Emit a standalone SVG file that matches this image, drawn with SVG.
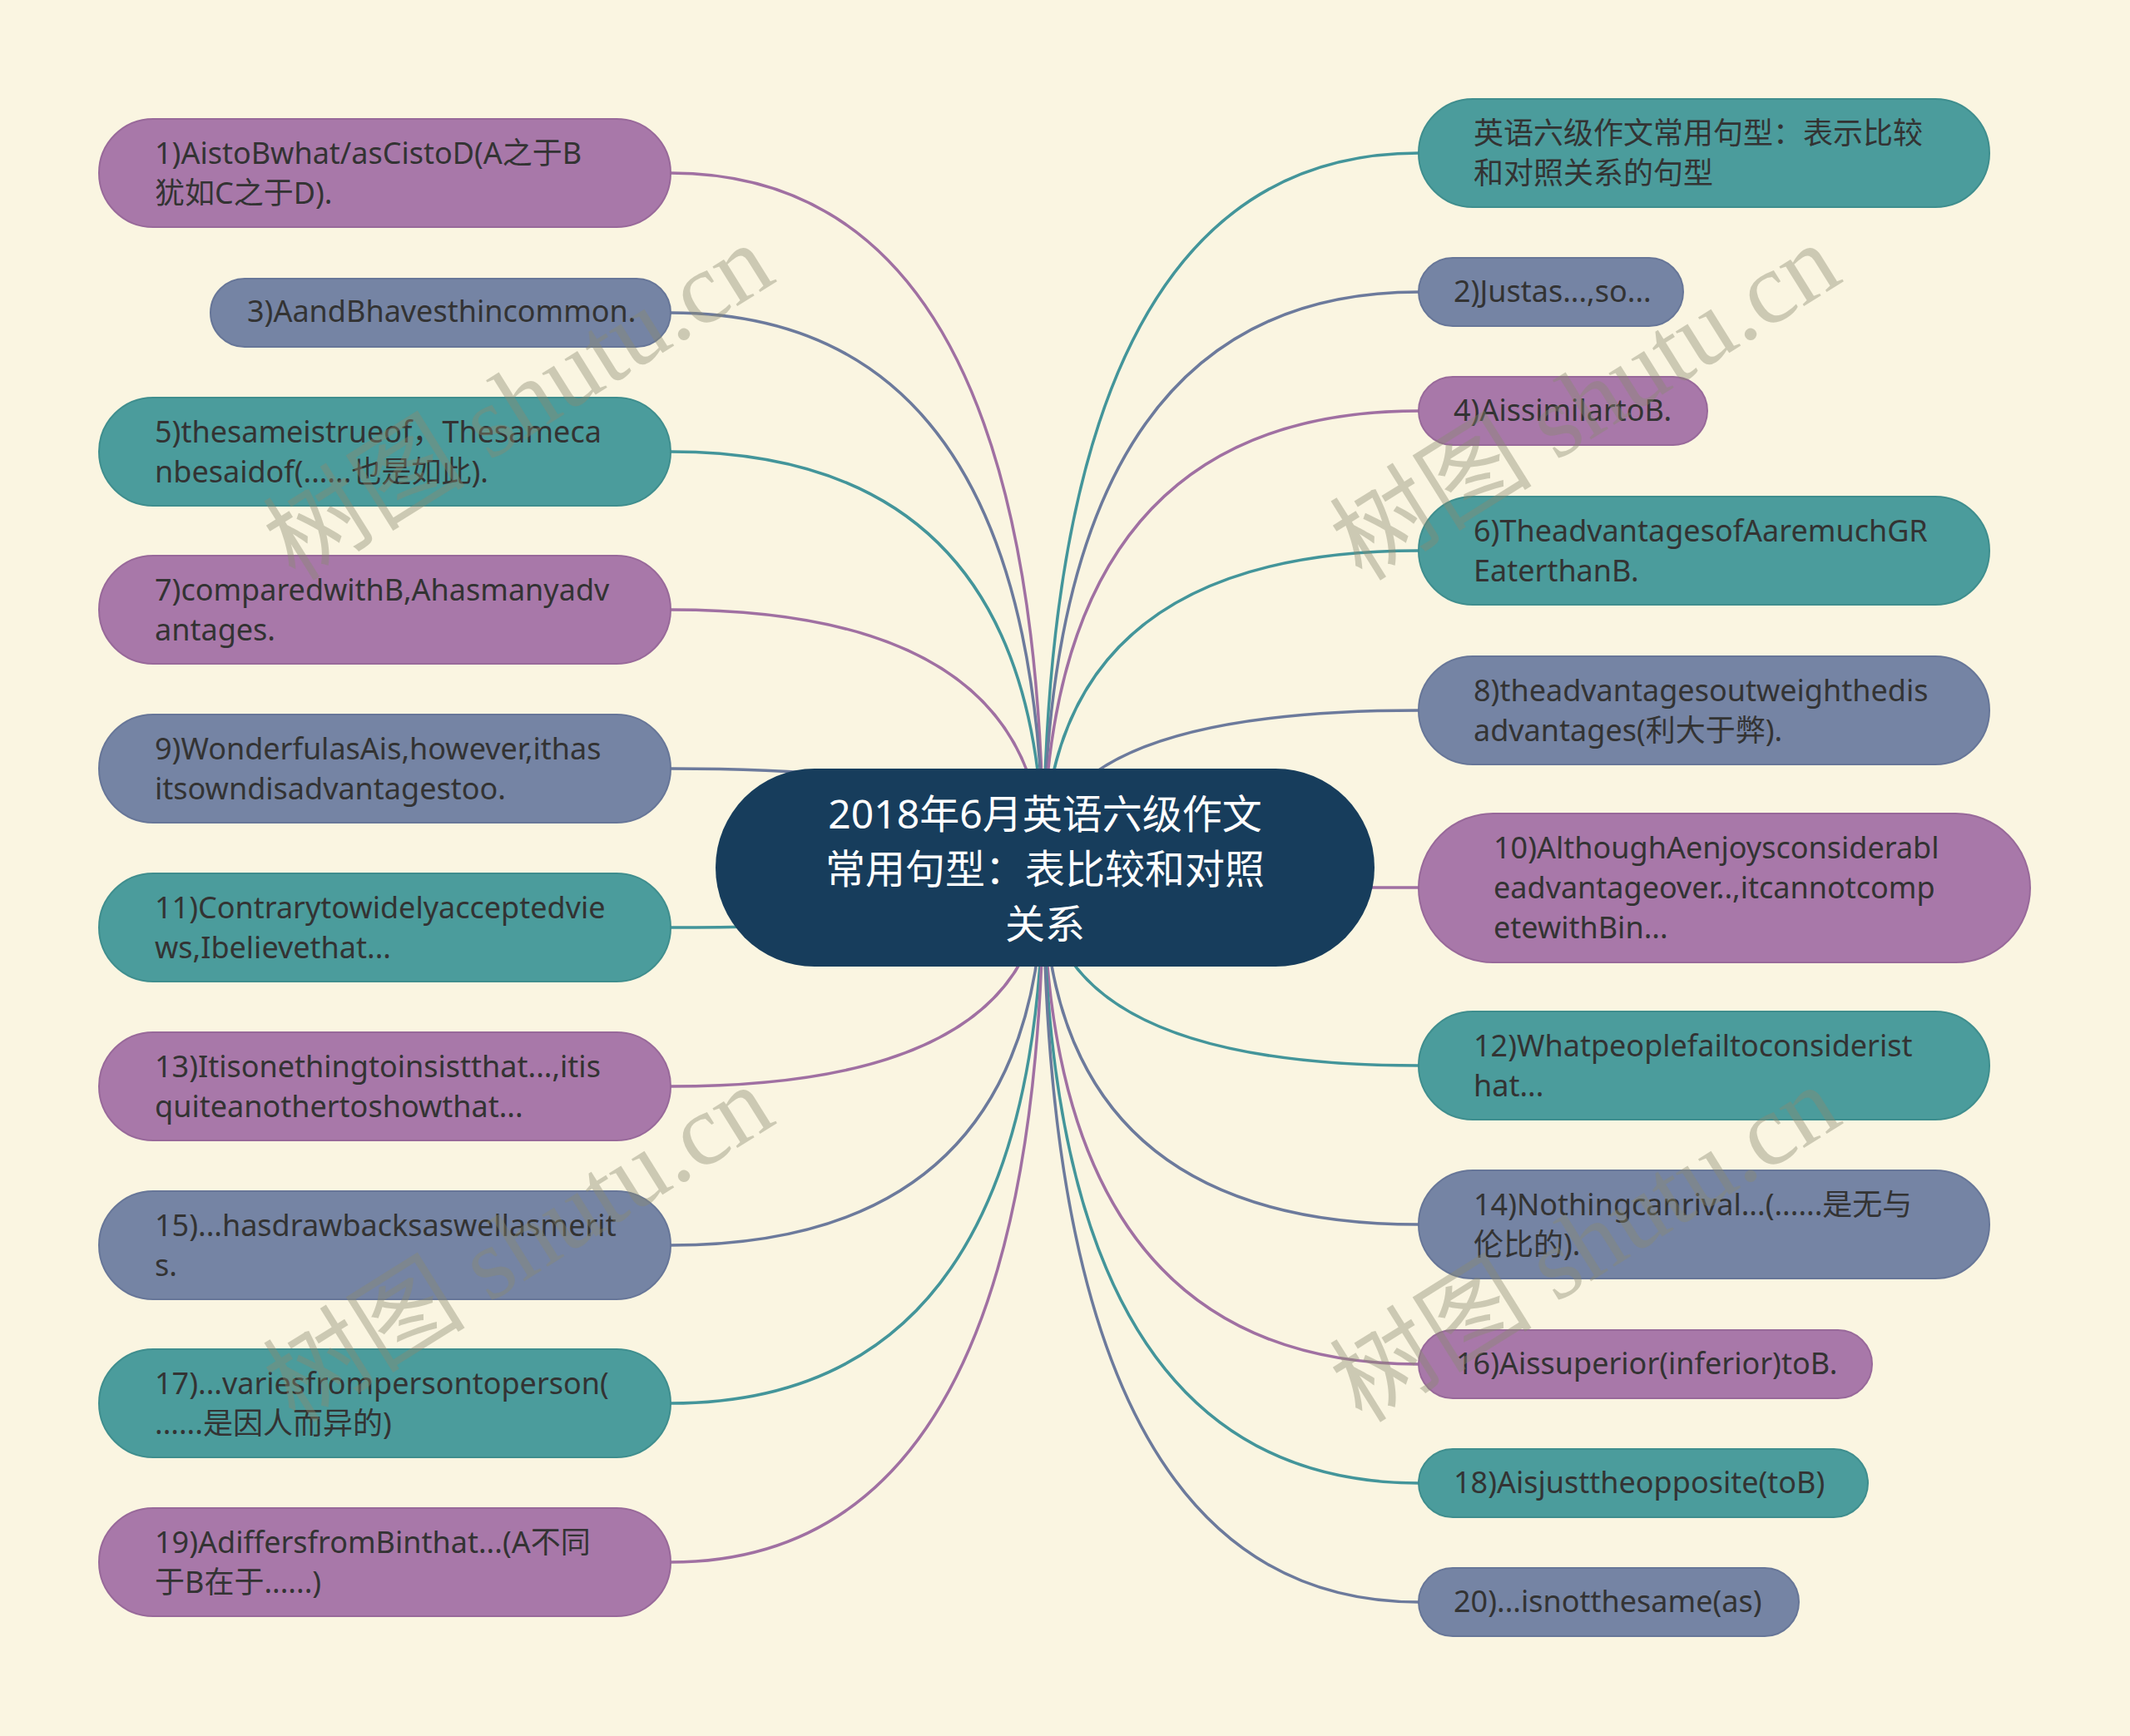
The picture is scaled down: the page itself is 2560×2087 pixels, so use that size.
<svg xmlns="http://www.w3.org/2000/svg" width="2560" height="2087" viewBox="0 0 2560 2087">
<style>
.bg{fill:#faf5e1}
.pu{fill:#a878a9;stroke:#98699a;stroke-width:2}
.te{fill:#4b9c9c;stroke:#3f8e8e;stroke-width:2}
.bl{fill:#7584a4;stroke:#677698;stroke-width:2}
.ct{fill:#173d5c}
.t{font-family:"Noto Sans","Noto Sans CJK SC",sans-serif;font-size:36px;fill:#333333}
.tc{font-family:"Noto Sans","Noto Sans CJK SC",sans-serif;font-size:48px;fill:#ffffff;text-anchor:middle}
.c{fill:none;stroke-width:3.5}
.cp{stroke:#a070a2}
.cte{stroke:#43959a}
.cbl{stroke:#6c7a9c}
.wm{font-family:"Liberation Serif","Noto Sans CJK SC",serif;font-size:122px;fill:#8a8a70;opacity:0.4}
</style>
<rect class="bg" x="0" y="0" width="2560" height="2087"/>
<g id="connectors">
<path class="c cp" d="M806,208 Q1254,208 1254,1043"/>
<path class="c cbl" d="M806,376 Q1254,376 1254,1043"/>
<path class="c cte" d="M806,543 Q1254,543 1254,1043"/>
<path class="c cp" d="M806,733 Q1254,733 1254,1043"/>
<path class="c cbl" d="M806,924 Q1254,924 1254,1043"/>
<path class="c cte" d="M806,1115 Q1254,1115 1254,1043"/>
<path class="c cp" d="M806,1306 Q1254,1306 1254,1043"/>
<path class="c cbl" d="M806,1497 Q1254,1497 1254,1043"/>
<path class="c cte" d="M806,1687 Q1254,1687 1254,1043"/>
<path class="c cp" d="M806,1878 Q1254,1878 1254,1043"/>
<path class="c cte" d="M1705,184 Q1254,184 1254,1043"/>
<path class="c cbl" d="M1705,351 Q1254,351 1254,1043"/>
<path class="c cp" d="M1705,494 Q1254,494 1254,1043"/>
<path class="c cte" d="M1705,662 Q1254,662 1254,1043"/>
<path class="c cbl" d="M1705,854 Q1254,854 1254,1043"/>
<path class="c cp" d="M1705,1067 Q1254,1067 1254,1043"/>
<path class="c cte" d="M1705,1281 Q1254,1281 1254,1043"/>
<path class="c cbl" d="M1705,1472 Q1254,1472 1254,1043"/>
<path class="c cp" d="M1705,1640 Q1254,1640 1254,1043"/>
<path class="c cte" d="M1705,1783 Q1254,1783 1254,1043"/>
<path class="c cbl" d="M1705,1926 Q1254,1926 1254,1043"/>
</g>
<g id="center">
<rect class="ct" x="860" y="924" width="792" height="238" rx="119"/>
<text class="tc" x="1256" y="996">2018年6月英语六级作文</text>
<text class="tc" x="1256" y="1062">常用句型：表比较和对照</text>
<text class="tc" x="1256" y="1128">关系</text>
</g>
<g id="n1"><rect class="pu" x="119" y="143" width="687" height="130" rx="65"/>
<text class="t" x="186" y="197">1)AistoBwhat/asCistoD(A之于B</text><text class="t" x="186" y="245">犹如C之于D).</text></g>
<g id="n3"><rect class="bl" x="253" y="335" width="553" height="82" rx="41"/>
<text class="t" x="297" y="387">3)AandBhavesthincommon.</text></g>
<g id="n5"><rect class="te" x="119" y="478" width="687" height="130" rx="65"/>
<text class="t" x="186" y="532">5)thesameistrueof，Thesameca</text><text class="t" x="186" y="580">nbesaidof(......也是如此).</text></g>
<g id="n7"><rect class="pu" x="119" y="668" width="687" height="130" rx="65"/>
<text class="t" x="186" y="722">7)comparedwithB,Ahasmanyadv</text><text class="t" x="186" y="770">antages.</text></g>
<g id="n9"><rect class="bl" x="119" y="859" width="687" height="130" rx="65"/>
<text class="t" x="186" y="913">9)WonderfulasAis,however,ithas</text><text class="t" x="186" y="961">itsowndisadvantagestoo.</text></g>
<g id="n11"><rect class="te" x="119" y="1050" width="687" height="130" rx="65"/>
<text class="t" x="186" y="1104">11)Contrarytowidelyacceptedvie</text><text class="t" x="186" y="1152">ws,Ibelievethat...</text></g>
<g id="n13"><rect class="pu" x="119" y="1241" width="687" height="130" rx="65"/>
<text class="t" x="186" y="1295">13)Itisonethingtoinsistthat...,itis</text><text class="t" x="186" y="1343">quiteanothertoshowthat...</text></g>
<g id="n15"><rect class="bl" x="119" y="1432" width="687" height="130" rx="65"/>
<text class="t" x="186" y="1486">15)...hasdrawbacksaswellasmerit</text><text class="t" x="186" y="1534">s.</text></g>
<g id="n17"><rect class="te" x="119" y="1622" width="687" height="130" rx="65"/>
<text class="t" x="186" y="1676">17)...variesfrompersontoperson(</text><text class="t" x="186" y="1724">......是因人而异的)</text></g>
<g id="n19"><rect class="pu" x="119" y="1813" width="687" height="130" rx="65"/>
<text class="t" x="186" y="1867">19)AdiffersfromBinthat...(A不同</text><text class="t" x="186" y="1915">于B在于......)</text></g>
<g id="n0"><rect class="te" x="1705" y="119" width="686" height="130" rx="65"/>
<text class="t" x="1771" y="173">英语六级作文常用句型：表示比较</text><text class="t" x="1771" y="221">和对照关系的句型</text></g>
<g id="n2"><rect class="bl" x="1705" y="310" width="318" height="82" rx="41"/>
<text class="t" x="1747" y="363">2)Justas...,so...</text></g>
<g id="n4"><rect class="pu" x="1705" y="453" width="347" height="82" rx="41"/>
<text class="t" x="1747" y="506">4)AissimilartoB.</text></g>
<g id="n6"><rect class="te" x="1705" y="597" width="686" height="130" rx="65"/>
<text class="t" x="1771" y="651">6)TheadvantagesofAaremuchGR</text><text class="t" x="1771" y="699">EaterthanB.</text></g>
<g id="n8"><rect class="bl" x="1705" y="789" width="686" height="130" rx="65"/>
<text class="t" x="1771" y="843">8)theadvantagesoutweighthedis</text><text class="t" x="1771" y="891">advantages(利大于弊).</text></g>
<g id="n10"><rect class="pu" x="1705" y="978" width="735" height="179" rx="89.5"/>
<text class="t" x="1795" y="1032">10)AlthoughAenjoysconsiderabl</text><text class="t" x="1795" y="1080">eadvantageover..,itcannotcomp</text><text class="t" x="1795" y="1128">etewithBin...</text></g>
<g id="n12"><rect class="te" x="1705" y="1216" width="686" height="130" rx="65"/>
<text class="t" x="1771" y="1270">12)Whatpeoplefailtoconsiderist</text><text class="t" x="1771" y="1318">hat...</text></g>
<g id="n14"><rect class="bl" x="1705" y="1407" width="686" height="130" rx="65"/>
<text class="t" x="1771" y="1461">14)Nothingcanrival...(......是无与</text><text class="t" x="1771" y="1509">伦比的).</text></g>
<g id="n16"><rect class="pu" x="1705" y="1599" width="545" height="82" rx="41"/>
<text class="t" x="1750" y="1652">16)Aissuperior(inferior)toB.</text></g>
<g id="n18"><rect class="te" x="1705" y="1742" width="540" height="82" rx="41"/>
<text class="t" x="1747" y="1795">18)Aisjusttheopposite(toB)</text></g>
<g id="n20"><rect class="bl" x="1705" y="1885" width="457" height="82" rx="41"/>
<text class="t" x="1747" y="1938">20)...isnotthesame(as)</text></g>
<g id="watermarks">
<text class="wm" transform="translate(355,700) rotate(-32)">树图 shutu.cn</text>
<text class="wm" transform="translate(1637,700) rotate(-32)">树图 shutu.cn</text>
<text class="wm" transform="translate(355,1712) rotate(-32)">树图 shutu.cn</text>
<text class="wm" transform="translate(1637,1712) rotate(-32)">树图 shutu.cn</text>
</g>
</svg>
